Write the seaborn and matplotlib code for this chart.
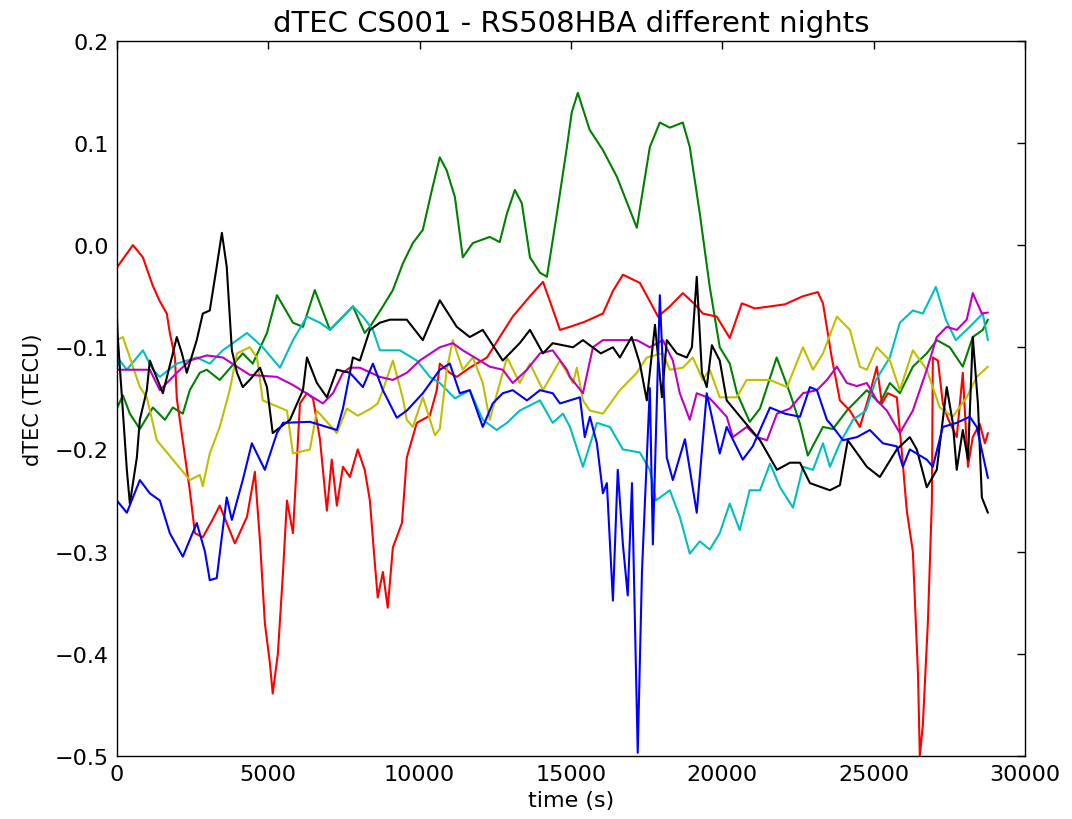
import matplotlib
matplotlib.use("Agg")
import matplotlib.pyplot as plt
import seaborn as sns
import numpy as np

# ---- data (time in s, dTEC in TECU) ----
red_t = [0, 530, 860, 1190, 1420, 1650, 1750, 1920, 1980, 2080, 2410, 2580, 2840, 3140, 3400, 3630, 3900,
         4300, 4560, 4730, 4890, 5060, 5150, 5320, 5490, 5620, 5820, 6050, 6280, 6480, 6710, 6940, 7100,
         7270, 7470, 7700, 7960, 8190, 8360, 8520, 8620, 8790, 8950, 9120, 9420, 9580, 9910, 10340, 10570,
         10670, 11000, 11230, 11660, 12230, 12650, 13080, 13650, 14080, 14370, 14640, 14970, 15460, 16060,
         16390, 16720, 17280, 17610, 17880, 18270, 18700, 19100, 19360, 19820, 20250, 20650, 21080, 21580,
         22070, 22670, 23160, 23330, 23620, 23890, 24220, 24550, 24880, 25110, 25280, 25470, 25770, 25940,
         26100, 26300, 26470, 26530, 26630, 26800, 26930, 26960, 27130, 27290, 27460, 27750, 27950, 28120,
         28280, 28510, 28680, 28780]
red_v = [-0.022, 0.0, -0.012, -0.04, -0.055, -0.067, -0.086, -0.11, -0.15, -0.171, -0.24, -0.282, -0.286,
         -0.27, -0.255, -0.272, -0.292, -0.266, -0.222, -0.29, -0.37, -0.41, -0.439, -0.40, -0.32, -0.25,
         -0.282, -0.155, -0.145, -0.15, -0.19, -0.26, -0.21, -0.255, -0.217, -0.227, -0.20, -0.22, -0.25,
         -0.31, -0.345, -0.32, -0.355, -0.296, -0.272, -0.208, -0.174, -0.167, -0.142, -0.116, -0.125,
         -0.129, -0.12, -0.11, -0.09, -0.07, -0.05, -0.036, -0.06, -0.083, -0.08, -0.075, -0.067, -0.045,
         -0.029, -0.037, -0.055, -0.07, -0.06, -0.047, -0.058, -0.067, -0.07, -0.091, -0.057, -0.062, -0.06,
         -0.058, -0.05, -0.046, -0.057, -0.11, -0.152, -0.162, -0.178, -0.145, -0.119, -0.155, -0.145,
         -0.149, -0.204, -0.26, -0.30, -0.42, -0.50, -0.47, -0.367, -0.25, -0.11, -0.113, -0.155, -0.17,
         -0.188, -0.125, -0.217, -0.188, -0.175, -0.194, -0.184]

green_t = [0, 200, 430, 760, 1190, 1590, 1850, 2180, 2410, 2740, 2970, 3400, 4160, 4490, 4960, 5290, 5820,
           6150, 6540, 7040, 7470, 7800, 8190, 8360, 8790, 9120, 9450, 9780, 10110, 10410, 10670, 10900,
           11170, 11430, 11760, 12320, 12650, 12890, 13150, 13380, 13650, 13980, 14210, 14540, 14870, 15030,
           15230, 15620, 16060, 16520, 17180, 17610, 17940, 18270, 18700, 18930, 19260, 19590, 19920, 20250,
           20490, 20910, 21250, 21800, 22240, 22570, 22830, 23330, 23660, 24120, 24780, 25210, 25540, 25870,
           26300, 26760, 27090, 27520, 27950, 28280, 28610, 28780]
green_v = [-0.16, -0.147, -0.165, -0.18, -0.159, -0.171, -0.159, -0.165, -0.142, -0.125, -0.122, -0.132,
           -0.106, -0.116, -0.086, -0.049, -0.076, -0.08, -0.044, -0.083, -0.07, -0.06, -0.086, -0.08, -0.06,
           -0.044, -0.018, 0.002, 0.015, 0.054, 0.086, 0.073, 0.047, -0.012, 0.002, 0.008, 0.003, 0.031,
           0.054, 0.041, -0.012, -0.027, -0.031, 0.031, 0.096, 0.13, 0.149, 0.113, 0.093, 0.067, 0.017,
           0.096, 0.12, 0.115, 0.12, 0.096, 0.031, -0.041, -0.1, -0.116, -0.145, -0.173, -0.16, -0.11,
           -0.145, -0.175, -0.206, -0.178, -0.18, -0.162, -0.142, -0.155, -0.135, -0.145, -0.119, -0.106,
           -0.093, -0.1, -0.119, -0.09, -0.083, -0.073]

blue_t = [0, 330, 760, 1090, 1420, 1750, 2180, 2640, 2910, 3070, 3300, 3630, 3800, 4160, 4460, 4890, 5290,
          5490, 6380, 7270, 7470, 7700, 8130, 8460, 8790, 9250, 9580, 10110, 10670, 11000, 11330, 11660,
          12090, 12420, 12750, 13080, 13550, 13980, 14400, 14640, 14970, 15300, 15460, 15630, 15860, 16060,
          16190, 16390, 16550, 16720, 16880, 17020, 17210, 17350, 17450, 17610, 17710, 17940, 18040, 18170,
          18370, 18770, 19160, 19490, 19920, 20150, 20680, 21010, 21580, 22070, 22570, 22900, 23130, 23460,
          23660, 23990, 24450, 24880, 25310, 25770, 25970, 26200, 26760, 26960, 27290, 27750, 28180, 28410,
          28780]
blue_v = [-0.25, -0.262, -0.23, -0.243, -0.25, -0.282, -0.305, -0.272, -0.30, -0.328, -0.326, -0.247,
          -0.269, -0.23, -0.194, -0.22, -0.184, -0.174, -0.173, -0.181, -0.16, -0.125, -0.139, -0.116,
          -0.142, -0.169, -0.162, -0.145, -0.122, -0.116, -0.145, -0.142, -0.178, -0.155, -0.145, -0.142,
          -0.152, -0.142, -0.145, -0.155, -0.152, -0.149, -0.188, -0.168, -0.194, -0.243, -0.233, -0.348,
          -0.22, -0.293, -0.343, -0.233, -0.497, -0.32, -0.25, -0.14, -0.293, -0.049, -0.12, -0.208, -0.23,
          -0.19, -0.262, -0.145, -0.204, -0.178, -0.21, -0.197, -0.159, -0.165, -0.168, -0.139, -0.142,
          -0.171, -0.178, -0.191, -0.188, -0.181, -0.194, -0.197, -0.217, -0.2, -0.21, -0.217, -0.178,
          -0.174, -0.168, -0.178, -0.228]

cyan_t = [0, 100, 330, 860, 1190, 1420, 1980, 2640, 3070, 3500, 4300, 4820, 5390, 5820, 6280, 6710, 7040,
          7470, 7800, 8130, 8460, 8690, 9350, 9910, 10340, 10670, 11170, 11660, 12090, 12550, 12890, 13310,
          13980, 14400, 14740, 14970, 15400, 15860, 16290, 16720, 17280, 17610, 17810, 18270, 18600, 18930,
          19260, 19590, 19920, 20250, 20580, 20910, 21250, 21580, 21910, 22340, 22670, 23000, 23330, 23560,
          23890, 24320, 24750, 25080, 25540, 25870, 26300, 26630, 27060, 27390, 27720, 28180, 28610, 28780]
cyan_v = [-0.12, -0.113, -0.122, -0.103, -0.122, -0.129, -0.116, -0.11, -0.116, -0.103, -0.086, -0.1, -0.12,
          -0.093, -0.07, -0.076, -0.083, -0.07, -0.06, -0.07, -0.083, -0.103, -0.103, -0.113, -0.129, -0.135,
          -0.15, -0.142, -0.171, -0.181, -0.174, -0.162, -0.152, -0.174, -0.165, -0.178, -0.217, -0.174,
          -0.178, -0.2, -0.203, -0.22, -0.25, -0.24, -0.266, -0.302, -0.29, -0.298, -0.282, -0.253, -0.279,
          -0.24, -0.24, -0.214, -0.237, -0.257, -0.217, -0.22, -0.194, -0.217, -0.194, -0.171, -0.162,
          -0.132, -0.11, -0.076, -0.064, -0.067, -0.041, -0.073, -0.093, -0.08, -0.067, -0.093]

black_t = [0, 30, 170, 330, 430, 660, 760, 990, 1090, 1320, 1520, 1850, 1980, 2150, 2310, 2640, 2840, 3070,
           3300, 3470, 3630, 3800, 3970, 4160, 4390, 4730, 4960, 5150, 5720, 6150, 6280, 6610, 6940, 7270,
           7700, 7800, 8030, 8360, 8690, 9020, 9580, 10110, 10670, 11230, 11660, 12090, 12750, 13310, 13650,
           14080, 14400, 15070, 15400, 15990, 16390, 16620, 17010, 17280, 17510, 17780, 18010, 18170, 18500,
           18830, 19000, 19160, 19330, 19490, 19660, 19920, 20150, 20680, 21250, 21810, 22240, 22570, 22900,
           23560, 23890, 24150, 24780, 25210, 25770, 26200, 26430, 26760, 27090, 27420, 27620, 27750, 27950,
           28120, 28280, 28450, 28580, 28780]
black_v = [-0.067, -0.09, -0.15, -0.22, -0.253, -0.208, -0.171, -0.142, -0.113, -0.13, -0.145, -0.106,
           -0.09, -0.106, -0.125, -0.093, -0.067, -0.064, -0.021, 0.012, -0.021, -0.103, -0.125, -0.139,
           -0.132, -0.12, -0.139, -0.184, -0.171, -0.142, -0.11, -0.135, -0.149, -0.122, -0.125, -0.11,
           -0.113, -0.083, -0.076, -0.073, -0.073, -0.093, -0.054, -0.08, -0.09, -0.083, -0.113, -0.096,
           -0.083, -0.106, -0.096, -0.1, -0.093, -0.106, -0.1, -0.11, -0.09, -0.116, -0.152, -0.078, -0.149,
           -0.093, -0.106, -0.11, -0.1, -0.031, -0.125, -0.139, -0.098, -0.113, -0.152, -0.171, -0.191,
           -0.22, -0.213, -0.213, -0.233, -0.24, -0.235, -0.191, -0.217, -0.227, -0.2, -0.188, -0.2, -0.237,
           -0.22, -0.139, -0.174, -0.22, -0.181, -0.21, -0.09, -0.155, -0.247, -0.262]

yellow_t = [0, 200, 430, 760, 990, 1320, 1850, 2410, 2740, 2840, 3070, 3400, 3730, 3970, 4390, 4630, 4820,
            5060, 5620, 5820, 6380, 6610, 7270, 7600, 7960, 8390, 8620, 8790, 9120, 9450, 9580, 9780, 10110,
            10510, 10670, 10900, 11100, 11430, 11760, 12090, 12320, 12890, 13310, 13650, 14080, 14640, 15070,
            15200, 15400, 15630, 16060, 16620, 17180, 17510, 18040, 18270, 18700, 19030, 19360, 19590, 19920,
            20480, 20810, 21580, 22140, 22670, 23000, 23330, 23790, 24220, 24550, 24780, 25110, 25540, 25870,
            26300, 26760, 27190, 27620, 28080, 28410, 28780]
yellow_v = [-0.093, -0.09, -0.11, -0.139, -0.149, -0.191, -0.21, -0.23, -0.225, -0.236, -0.204, -0.178,
            -0.142, -0.106, -0.1, -0.11, -0.152, -0.155, -0.162, -0.204, -0.2, -0.162, -0.184, -0.16, -0.167,
            -0.16, -0.155, -0.142, -0.113, -0.15, -0.171, -0.178, -0.149, -0.186, -0.18, -0.122, -0.093,
            -0.122, -0.11, -0.135, -0.171, -0.11, -0.135, -0.116, -0.142, -0.113, -0.135, -0.12, -0.152,
            -0.162, -0.165, -0.142, -0.125, -0.11, -0.106, -0.122, -0.12, -0.11, -0.132, -0.122, -0.149,
            -0.149, -0.132, -0.132, -0.139, -0.1, -0.122, -0.106, -0.07, -0.083, -0.119, -0.122, -0.1, -0.113,
            -0.142, -0.103, -0.122, -0.159, -0.168, -0.149, -0.129, -0.119]

magenta_t = [0, 1090, 1420, 1980, 2410, 2970, 3500, 3970, 4390, 5290, 5820, 6480, 6810, 7140, 7470, 7700,
             8030, 8690, 9120, 9580, 10010, 10670, 11100, 11430, 11990, 12320, 12750, 13080, 13550, 13980,
             14400, 14870, 14970, 15400, 15730, 16060, 17180, 17610, 18040, 18370, 18600, 18930, 19160, 19590,
             20150, 20350, 20810, 21150, 21480, 21810, 22240, 22670, 23130, 23460, 23790, 24120, 24450, 24780,
             25110, 25440, 25870, 26300, 26760, 27090, 27420, 27750, 28080, 28280, 28580, 28780]
magenta_v = [-0.122, -0.122, -0.142, -0.125, -0.113, -0.108, -0.11, -0.119, -0.127, -0.129, -0.137, -0.149,
             -0.155, -0.145, -0.125, -0.12, -0.12, -0.129, -0.132, -0.125, -0.113, -0.1, -0.096, -0.103,
             -0.113, -0.119, -0.122, -0.135, -0.122, -0.106, -0.103, -0.122, -0.129, -0.145, -0.1, -0.093,
             -0.093, -0.1, -0.093, -0.113, -0.145, -0.171, -0.145, -0.15, -0.168, -0.188, -0.178, -0.188,
             -0.191, -0.165, -0.16, -0.145, -0.142, -0.132, -0.119, -0.135, -0.138, -0.135, -0.152, -0.162,
             -0.184, -0.162, -0.122, -0.09, -0.08, -0.083, -0.073, -0.047, -0.067, -0.066]

x_ticks = [0, 5000, 10000, 15000, 20000, 25000, 30000]
y_ticks = [-0.5, -0.4, -0.3, -0.2, -0.1, 0.0, 0.1, 0.2]

series = [
    (green_t, green_v, (0.0, 0.5, 0.0)),
    (red_t, red_v, (1.0, 0.0, 0.0)),
    (cyan_t, cyan_v, (0.0, 0.75, 0.75)),
    (yellow_t, yellow_v, (0.75, 0.75, 0.0)),
    (magenta_t, magenta_v, (0.75, 0.0, 0.75)),
    (black_t, black_v, (0.0, 0.0, 0.0)),
    (blue_t, blue_v, (0.0, 0.0, 1.0)),
]

sns.set_style("white")
plt.rcParams['font.family'] = ['DejaVu Sans']
plt.rcParams['text.color'] = 'black'
plt.rcParams['axes.labelcolor'] = 'black'
plt.rcParams['xtick.color'] = 'black'
plt.rcParams['ytick.color'] = 'black'

fig = plt.figure(figsize=(10.72, 8.2), dpi=100)
ax = fig.add_axes([0.109, 0.077, 0.847, 0.872])

for t, v, c in series:
    sns.lineplot(x=t, y=v, color=c, linewidth=1.5, ax=ax, estimator=None, sort=False)

ax.set_xlim(0, 30000)
ax.set_ylim(-0.5, 0.2)
ax.set_xticks(x_ticks)
ax.set_yticks(y_ticks)
ax.set_yticklabels([f"{y:.1f}".replace("-", "\u2212") if y != 0 else "0.0" for y in y_ticks])
ax.tick_params(direction='in', top=True, right=True, length=6, width=1, labelsize=16, pad=6,
               colors='black', labelcolor='black')
for s in ax.spines.values():
    s.set_visible(True)
    s.set_color('black')
    s.set_linewidth(1.0)

ax.set_title("dTEC CS001 - RS508HBA different nights", fontsize=21, pad=7, color='black')
ax.set_xlabel("time (s)", fontsize=16, labelpad=4, color='black')
ax.set_ylabel("dTEC (TECU)", fontsize=15, labelpad=8, color='black')

fig.savefig("out.png", dpi=100)
